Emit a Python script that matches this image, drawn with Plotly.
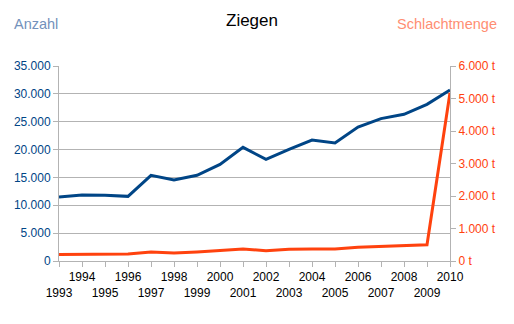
import plotly.graph_objects as go

years = list(range(1993, 2011))
anzahl = [11500, 11850, 11800, 11600, 15380, 14540, 15380, 17350, 20400, 18250,
          20050, 21720, 21180, 24050, 25550, 26330, 28120, 30690]
schlachtmenge = [200, 210, 215, 215, 277, 246, 277, 318, 369, 318,
                 359, 369, 369, 420, 451, 461, 502, 5180]
tick_text = [str(y) if y % 2 == 0 else "<br>" + str(y) for y in years]

BLUE = "#004586"
ORANGE = "#ff420e"
GRID = "#b3b3b3"

L, R, T, B = 59, 64, 66, 63
W, H = 514, 324
pw = W - L - R
ph = H - T - B

fig = go.Figure()
fig.add_trace(go.Scatter(x=years, y=anzahl, mode="lines", line=dict(color=BLUE, width=3),
                         yaxis="y", showlegend=False))
fig.add_trace(go.Scatter(x=years, y=schlachtmenge, mode="lines", line=dict(color=ORANGE, width=3),
                         yaxis="y2", showlegend=False))


def hdr(text, px, py, anchor, size, color):
    return dict(text=text, x=(px - L) / pw, y=(H - B - py) / ph, xref="paper", yref="paper",
                xanchor=anchor, yanchor="middle", showarrow=False,
                font=dict(size=size, color=color))


fig.update_layout(
    width=W, height=H,
    margin=dict(l=L, r=R, t=T, b=B),
    paper_bgcolor="white", plot_bgcolor="white",
    separators=",.",
    font=dict(family="Liberation Sans, Arial, sans-serif", size=12, color="#000000"),
    xaxis=dict(range=[1993, 2010], tickvals=years, ticktext=tick_text, tickangle=0,
               showgrid=False, showline=True, linecolor=GRID, linewidth=1,
               ticks="outside", ticklen=5, tickcolor=GRID,
               tickfont=dict(size=12, color="#000000"), zeroline=False),
    yaxis=dict(range=[0, 35000], dtick=5000, tickformat=",d", showgrid=True, gridcolor=GRID,
               gridwidth=1, showline=True, linecolor=GRID, ticks="outside", ticklen=5,
               tickcolor=GRID, tickfont=dict(size=12, color=BLUE), zeroline=False),
    yaxis2=dict(range=[0, 6000], dtick=1000, tickformat=",d", ticksuffix=" t", overlaying="y",
                side="right", showgrid=False, showline=True, linecolor=GRID, ticks="outside",
                ticklen=5, tickcolor=GRID, tickfont=dict(size=12, color=ORANGE), zeroline=False),
    annotations=[
        hdr("Ziegen", 251.5, 21, "center", 17, "#000000"),
        hdr("Anzahl", 12, 24, "left", 14.5, "#7391bb"),
        hdr("Schlachtmenge", 499, 24, "right", 14.5, "#ff8e72"),
    ],
)

fig.write_html("out.html")
